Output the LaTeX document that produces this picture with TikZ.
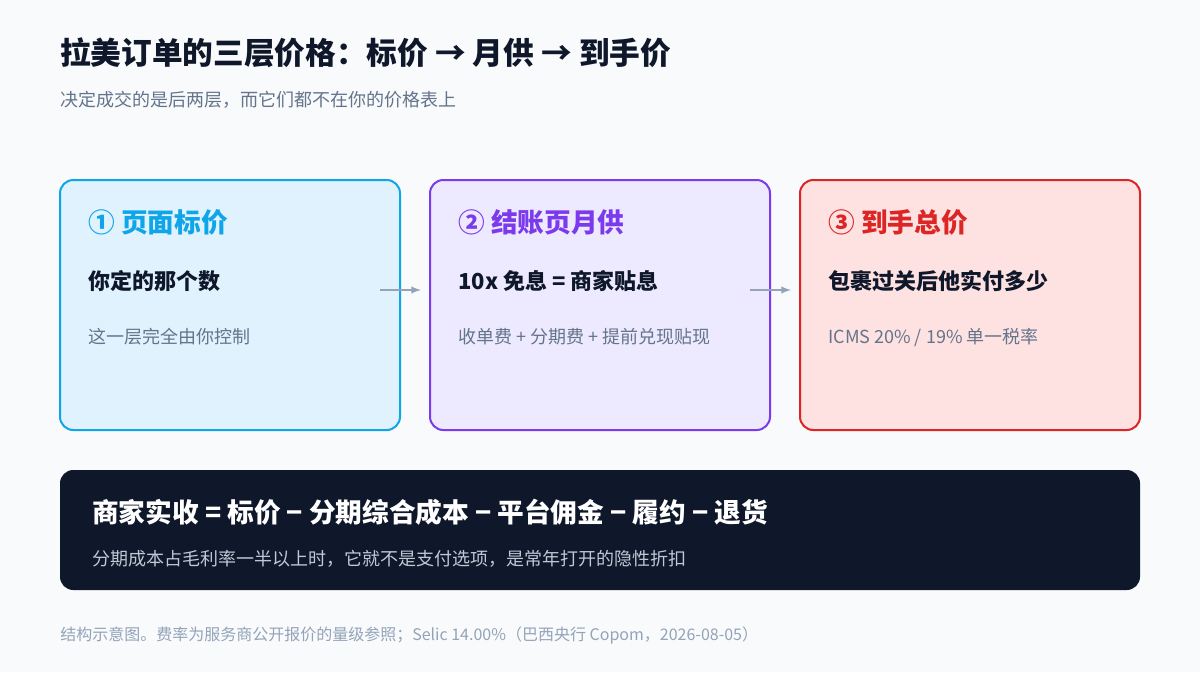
\documentclass[tikz,border=0pt]{standalone}
\usepackage{fontspec}
\setmainfont{Noto Sans CJK SC}
\usetikzlibrary{positioning}
\definecolor{bgc}{HTML}{F8FAFC}
\definecolor{ink}{HTML}{0F172A}
\definecolor{muted}{HTML}{64748B}
\definecolor{faint}{HTML}{94A3B8}
\definecolor{skyl}{HTML}{E0F2FE}\definecolor{skyd}{HTML}{0EA5E9}
\definecolor{viol}{HTML}{EDE9FE}\definecolor{viod}{HTML}{7C3AED}
\definecolor{redl}{HTML}{FEE2E2}\definecolor{redd}{HTML}{DC2626}
\begin{document}
\begin{tikzpicture}
[x=0.75pt,y=-0.75pt,>=latex,
 card/.style={draw,line width=1.5pt,rounded corners=10pt,minimum width=255pt,minimum height=187.5pt,inner sep=0pt},
 txt/.style={anchor=base west,inner sep=0pt},
 head/.style={txt,font=\fontsize{20}{24}\selectfont\bfseries},
 line/.style={txt,font=\fontsize{16.5}{20}\selectfont\bfseries,text=ink},
 note/.style={txt,font=\fontsize{13.5}{16}\selectfont,text=muted},
 flow/.style={->,draw=faint,line width=1.5pt}]

\fill[bgc] (0,0) rectangle (1200,672);

\node[txt,font=\fontsize{23}{28}\selectfont\bfseries,text=ink] (title) at (60,64) {拉美订单的三层价格：标价 → 月供 → 到手价};
\node[txt,font=\fontsize{13.5}{16}\selectfont,text=muted] (sub) at (60,106) {决定成交的是后两层，而它们都不在你的价格表上};

\node[card,fill=skyl,draw=skyd] (list) at (230,305) {};
\node[card,fill=viol,draw=viod] (month) at (600,305) {};
\node[card,fill=redl,draw=redd] (total) at (970,305) {};

\node[head,text=skyd] (h1) at (88,232) {① 页面标价};
\node[line] (l1) at (88,289) {你定的那个数};
\node[note] (n1) at (88,343) {这一层完全由你控制};

\node[head,text=viod] (h2) at (458,232) {② 结账页月供};
\node[line] (l2) at (458,289) {10x 免息 = 商家贴息};
\node[note] (n2) at (458,343) {收单费 + 分期费 + 提前兑现贴现};

\node[head,text=redd] (h3) at (828,232) {③ 到手总价};
\node[line] (l3) at (828,289) {包裹过关后他实付多少};
\node[note] (n3) at (828,343) {ICMS 20\% / 19\% 单一税率};

\coordinate (a1) at (380,290); \coordinate (b1) at (421,290);
\coordinate (a2) at (750,290); \coordinate (b2) at (791,290);
\draw[flow] (a1) -- (b1);
\draw[flow] (a2) -- (b2);

\node[fill=ink,rounded corners=10pt,minimum width=810pt,minimum height=90pt,inner sep=0pt] (net) at (600,530) {};
\node[txt,font=\fontsize{20}{24}\selectfont\bfseries,text=white] (f1) at (92,522) {商家实收 = 标价 − 分期综合成本 − 平台佣金 − 履约 − 退货};
\node[txt,font=\fontsize{13.5}{16}\selectfont,text=faint!60!white] (f2) at (92,565) {分期成本占毛利率一半以上时，它就不是支付选项，是常年打开的隐性折扣};

\node[txt,font=\fontsize{12}{14}\selectfont,text=faint] (foot) at (60,640) {结构示意图。费率为服务商公开报价的量级参照；Selic 14.00\%（巴西央行 Copom，2026-08-05）};
\end{tikzpicture}
\end{document}
